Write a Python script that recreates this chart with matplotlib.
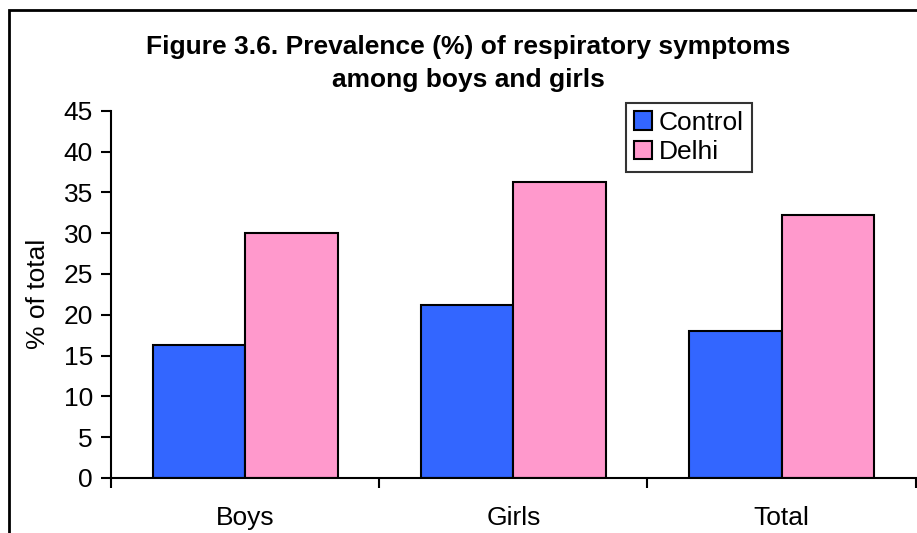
import numpy as np
import matplotlib.pyplot as plt
from matplotlib.patches import Rectangle

# data
groups = ['Boys', 'Girls', 'Total']
control = [16.3, 21.2, 18.0]
delhi = [30.0, 36.3, 32.2]
series_names = ['Control', 'Delhi']

plt.rcParams['font.family'] = ['Liberation Sans', 'DejaVu Sans']

fig = plt.figure(figsize=(9.17, 5.33), dpi=100)
ax = fig.add_axes([0.121, 0.1032, 0.8776, 0.6891])

x = np.arange(len(groups))
w = 0.345
ax.bar(x - w / 2, control, w, color='#3366FF', edgecolor='black', linewidth=1.5, label=series_names[0])
ax.bar(x + w / 2, delhi, w, color='#FF99CC', edgecolor='black', linewidth=1.5, label=series_names[1])

ax.set_xlim(-0.5, 2.5)
ax.set_ylim(0, 45)
ax.set_yticks(range(0, 46, 5))
ax.set_xticks(x)
ax.set_xticklabels(groups)
ax.set_xticks(np.arange(-0.5, 2.6, 1), minor=True)
ax.tick_params(axis='x', which='major', length=0, pad=20, labelsize=19)
ax.tick_params(axis='x', which='minor', length=7, width=1.5, direction='out')
ax.tick_params(axis='y', length=7, width=1.5, direction='out', pad=6, labelsize=19)
for s in ['top', 'right']:
    ax.spines[s].set_visible(False)
ax.spines['left'].set_linewidth(1.5)
ax.spines['bottom'].set_linewidth(1.5)
ax.set_ylabel('% of total', fontsize=19, labelpad=10)

leg = ax.legend(loc='upper left', bbox_to_anchor=(626 / 917, 1 - 103 / 533), bbox_transform=fig.transFigure,
                fontsize=19, frameon=True, fancybox=False, edgecolor='black', handlelength=0.7,
                handleheight=0.7, handletextpad=0.25, borderpad=0.3, labelspacing=0.2, borderaxespad=0)
leg.get_frame().set_linewidth(1.5)

fig.text(0.511, 1 - 47 / 533, 'Figure 3.6. Prevalence (%) of respiratory symptoms', ha='center', va='center',
         fontsize=19, fontweight='bold')
fig.text(0.511, 1 - 80 / 533, 'among boys and girls', ha='center', va='center', fontsize=19, fontweight='bold')

# outer chart border (only left and top visible in the crop)
fig.patches.append(Rectangle((9 / 917, -0.2), 1.3, 1 - 10 / 533 + 0.2, transform=fig.transFigure,
                             fill=False, edgecolor='black', linewidth=2, clip_on=False))

fig.savefig('out.png', dpi=100)
